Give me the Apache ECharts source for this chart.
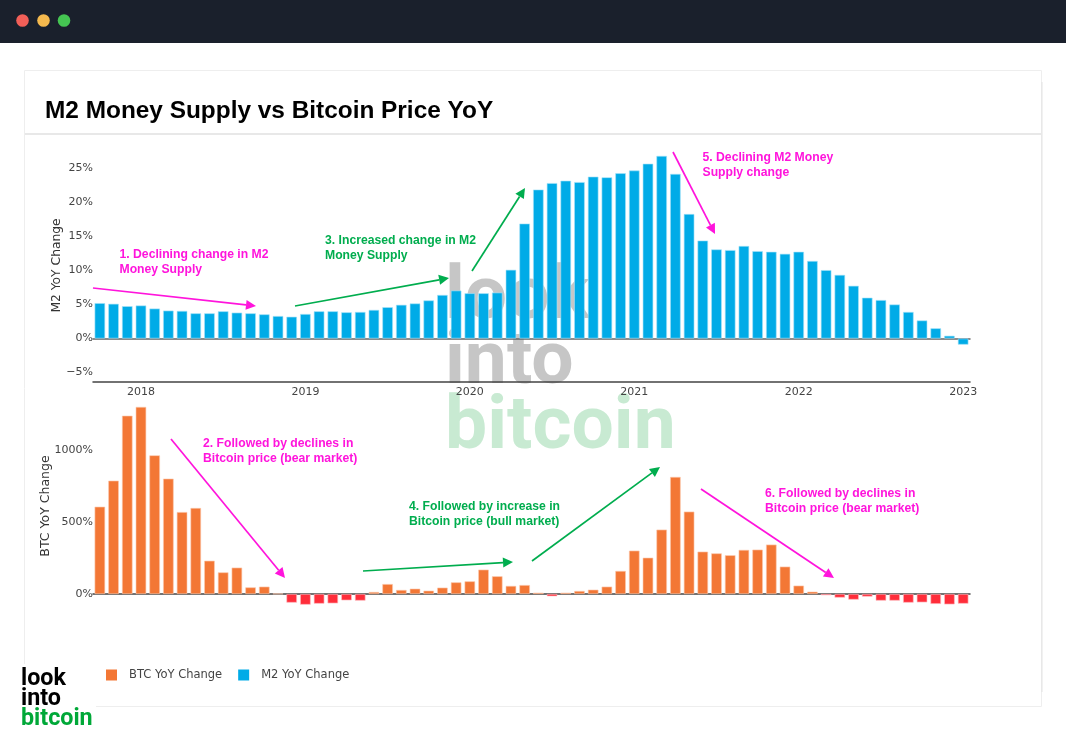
<!DOCTYPE html>
<html>
<head>
<meta charset="utf-8">
<style>html,body{margin:0;padding:0;background:#fff}#c{width:1066px;height:743px}</style>
<script src="https://cdn.jsdelivr.net/npm/echarts@6/dist/echarts.min.js"></script>
</head>
<body>
<div id="c"></div>
<script>
const startYear = 2017, startMonth = 10;
const m2Values = [5.2,5.1,4.75,4.85,4.4,4.1,4.05,3.7,3.7,4.0,3.8,3.7,3.55,3.3,3.2,3.6,4.0,4.0,3.85,3.9,4.2,4.6,4.95,5.15,5.6,6.4,7.05,6.65,6.65,6.75,10.1,16.9,
21.9,22.85,23.2,23.0,23.8,23.7,24.3,24.7,25.7,26.85,24.2,18.3,14.4,13.1,13.0,13.6,12.85,12.75,12.45,12.75,11.4,10.05,9.35,7.75,6.0,5.65,5.0,3.9,2.65,1.5,0.4,-0.9];
const btcValues = [606,787,1238,1299,963,801,569,597,231,150,183,46,51,2,-60,-74,-67,-65,-44,-46,14,69,28,37,23,44,81,88,169,123,56,62,
9,-16,9,21,30,51,160,301,252,447,813,572,294,282,269,306,308,343,190,58,16,-9,-25,-39,-18,-46,-46,-60,-58,-69,-72,-67];
const months = m2Values.map((_, i) => {
  const t = startYear * 12 + startMonth - 1 + i;
  return Math.floor(t / 12) + '-' + String(t % 12 + 1).padStart(2, '0');
});

const MAGENTA = '#ff14dc', GREEN = '#00ad4e';
const axisFont = '"DejaVu Sans", Verdana, sans-serif';
const arrows = [
  [93,288,256,306,MAGENTA],[295,306,449,278,GREEN],[472,271,525,188,GREEN],[673,152,715,234,MAGENTA],
  [171,439,285,578,MAGENTA],[363,571,513,562,GREEN],[532,561,660,467,GREEN],[701,489,834,578,MAGENTA]
];
const notes = [
  ['1. Declining change in M2\nMoney Supply',119.5,247,MAGENTA],
  ['3. Increased change in M2\nMoney Supply',325,233,GREEN],
  ['5. Declining M2 Money\nSupply change',702.5,150,MAGENTA],
  ['2. Followed by declines in\nBitcoin price (bear market)',203,436,MAGENTA],
  ['4. Followed by increase in\nBitcoin price (bull market)',409,499,GREEN],
  ['6. Followed by declines in\nBitcoin price (bear market)',765,486,MAGENTA]
];

const g = [];
// window chrome
g.push({type:'rect',z:-5,shape:{x:0,y:0,width:1066,height:43},style:{fill:'#1a202c'}});
[[22.5,'#f25f58'],[43.5,'#f5b94e'],[64,'#45c552']].forEach(d=>g.push({type:'circle',z:-5,shape:{cx:d[0],cy:20.5,r:6.3},style:{fill:d[1]}}));
// card
g.push({type:'rect',z:-5,shape:{x:24.5,y:70.5,width:1017,height:636},style:{fill:'#fff',stroke:'#eeeeee',lineWidth:1}});
g.push({type:'line',z:-5,shape:{x1:25,y1:134,x2:1041,y2:134},style:{stroke:'#e8e8e8',lineWidth:2}});
g.push({type:'line',z:-5,shape:{x1:1041.8,y1:82,x2:1041.8,y2:692},style:{stroke:'#e8e8e8',lineWidth:1.6}});
// watermark
[['look',445,262,'#c6c6c6'],['into',445,327,'#c6c6c6'],['bitcoin',445,392,'#c8ead2']].forEach(w=>g.push({
  type:'text',z:-1,style:{text:w[0],x:w[1],y:w[2],fill:w[3],font:'bold 75px Roboto, sans-serif',textVerticalAlign:'top'}}));
// annotations
arrows.forEach(a=>{
  const [x1,y1,x2,y2,c]=a, ang=Math.atan2(y2-y1,x2-x1), L=10, W=5;
  const bx=x2-L*Math.cos(ang), by=y2-L*Math.sin(ang), nx=-Math.sin(ang), ny=Math.cos(ang);
  g.push({type:'line',z:10,shape:{x1,y1,x2:bx,y2:by},style:{stroke:c,lineWidth:1.7}});
  g.push({type:'polygon',z:10,shape:{points:[[x2,y2],[bx+nx*W,by+ny*W],[bx-nx*W,by-ny*W]]},style:{fill:c}});
});
notes.forEach(n=>g.push({type:'text',z:10,style:{text:n[0],x:n[1],y:n[2],fill:n[3],font:'bold 12.2px "Liberation Sans", Arial, sans-serif',lineHeight:15}}));
// logo
g.push({type:'rect',z:8,shape:{x:18,y:664,width:78,height:66},style:{fill:'#fff'}});
[['look',668,'#000'],['into',688,'#000'],['bitcoin',708,'#00a838']].forEach(w=>g.push({
  type:'text',z:9,style:{text:w[0],x:21,y:w[1],fill:w[2],font:'bold 23.3px Roboto, sans-serif',textVerticalAlign:'top'}}));

const isYearStart = (i,v)=>v.endsWith('-01');
const chart = echarts.init(document.getElementById('c'),null,{renderer:'canvas'});
chart.setOption({
  animation:false,
  title:{text:'M2 Money Supply vs Bitcoin Price YoY',left:45,top:99,padding:0,
    textStyle:{fontFamily:'"Liberation Sans", Arial, sans-serif',fontWeight:'bold',fontSize:24.4,color:'#000'}},
  legend:{left:106,top:669,padding:0,itemWidth:11,itemHeight:11,itemGap:16,icon:'rect',
    data:[{name:'BTC YoY Change',itemStyle:{borderWidth:0}},{name:'M2 YoY Change',itemStyle:{borderWidth:0}}],
    textStyle:{fontFamily:axisFont,fontSize:11.5,color:'#444',padding:[0,0,0,7]}},
  grid:[
    {left:93,width:877,top:134.5,height:238},
    {left:93,width:877,top:378,height:288}
  ],
  xAxis:[
    {type:'category',gridIndex:0,data:months,position:'bottom',offset:9.5,axisLine:{onZero:false,lineStyle:{color:'#444',width:1.5}},
      axisTick:{show:false},axisLabel:{interval:isYearStart,formatter:v=>v.slice(0,4),color:'#444',fontFamily:axisFont,fontSize:11,margin:5}},
    {type:'category',gridIndex:0,data:months,axisLine:{onZero:true,lineStyle:{color:'#666',width:1.5}},axisTick:{show:false},axisLabel:{show:false}},
    {type:'category',gridIndex:1,data:months,axisLine:{onZero:true,lineStyle:{color:'#444',width:1.5}},axisTick:{show:false},axisLabel:{show:false}}
  ],
  yAxis:[
    {type:'value',gridIndex:0,min:-5,max:30,interval:5,splitLine:{show:false},axisLine:{show:false},axisTick:{show:false},
      axisLabel:{formatter:v=>v>25?'':(v<0?'\u2212'+(-v):v)+'%',color:'#444',fontFamily:axisFont,fontSize:11,margin:0},
      name:'M2 YoY Change',nameLocation:'middle',nameRotate:90,nameGap:30,nameMoveOverlap:false,
      nameTextStyle:{color:'#333',fontFamily:axisFont,fontSize:12.3,padding:[0,24,0,0]}},
    {type:'value',gridIndex:1,min:-500,max:1500,interval:500,splitLine:{show:false},axisLine:{show:false},axisTick:{show:false},
      axisLabel:{formatter:v=>(v<0||v>1000)?'':v+'%',color:'#444',fontFamily:axisFont,fontSize:11,margin:0},
      name:'BTC YoY Change',nameLocation:'middle',nameRotate:90,nameGap:41,nameMoveOverlap:false,
      nameTextStyle:{color:'#333',fontFamily:axisFont,fontSize:12.5,padding:[0,0,0,32]}}
  ],
  series:[
    {name:'BTC YoY Change',type:'bar',xAxisIndex:2,yAxisIndex:1,barWidth:10.5,
      itemStyle:{color:'#f37735',borderColor:'#fbc9ae',borderWidth:0.6},
      data:btcValues.map(v=>v<0?{value:v,itemStyle:{color:'#ff2d3a',borderColor:'#ffc0c4'}}:v)},
    {name:'M2 YoY Change',type:'bar',xAxisIndex:1,yAxisIndex:0,barWidth:10.5,
      itemStyle:{color:'#00abe7',borderColor:'#a6e3f8',borderWidth:0.6},data:m2Values}
  ],
  graphic:{elements:g}
});
</script>
</body>
</html>
